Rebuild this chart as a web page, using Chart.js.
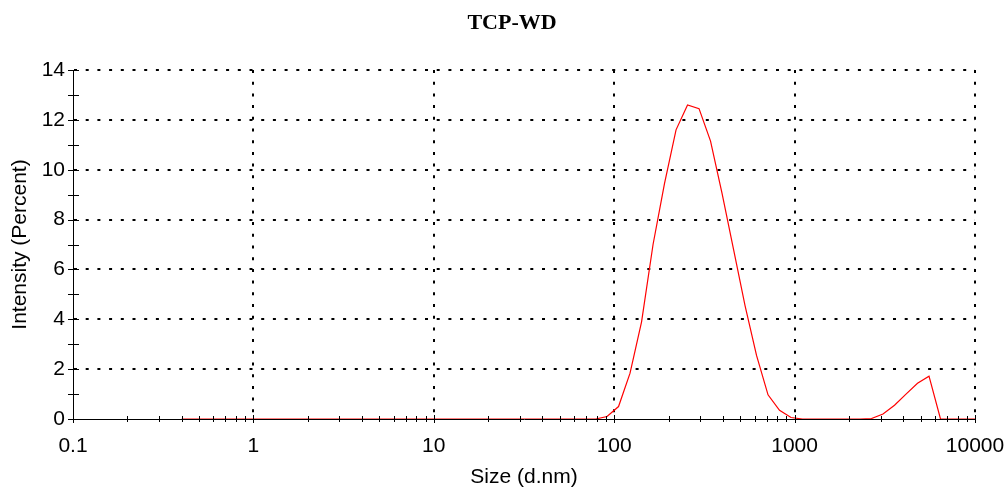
<!DOCTYPE html>
<html lang="en">
<head>
  <meta charset="UTF-8">
  <title>TCP-WD</title>
  <script src="https://cdn.jsdelivr.net/npm/chart.js"></script>
  <style>
    body { margin: 0; background: #fff; font-family: Arial, sans-serif; }
    canvas { display: block; }
  </style>
</head>
<body>
  <canvas id="sizeChart" width="1008" height="490"></canvas>
  <script>
    const chartTitle = 'TCP-WD';
    const xTitle = 'Size (d.nm)';
    const yTitle = 'Intensity (Percent)';

    // size bins (d.nm)
    const sizes = [
      0.4, 0.4632, 0.5365, 0.6213, 0.7195, 0.8332, 0.9649, 1.117, 1.294, 1.499,
      1.736, 2.01, 2.328, 2.696, 3.122, 3.615, 4.187, 4.849, 5.615, 6.503,
      7.531, 8.721, 10.1, 11.7, 13.54, 15.69, 18.17, 21.04, 24.36, 28.21,
      32.67, 37.84, 43.82, 50.75, 58.77, 68.06, 78.82, 91.28, 105.7, 122.4,
      141.8, 164.2, 190.1, 220.2, 255.0, 295.3, 342.0, 396.1, 458.7, 531.2,
      615.1, 712.4, 825.0, 955.4, 1106, 1281, 1484, 1718, 1990, 2305,
      2669, 3091, 3580, 4145, 4801, 5560, 6439, 7456, 8635, 10000
    ];
    // intensity (%)
    const intensity = [
      0, 0, 0, 0, 0, 0, 0, 0, 0, 0,
      0, 0, 0, 0, 0, 0, 0, 0, 0, 0,
      0, 0, 0, 0, 0, 0, 0, 0, 0, 0,
      0, 0, 0, 0, 0, 0, 0, 0.1, 0.5, 1.84,
      3.9, 7.0, 9.45, 11.6, 12.6, 12.45, 11.15, 9.05, 6.8, 4.55,
      2.55, 0.97, 0.35, 0.06, 0, 0, 0, 0, 0, 0,
      0.02, 0.2, 0.55, 1.0, 1.43, 1.72, 0, 0, 0, 0
    ];

    const xMajor = [0.1, 1, 10, 100, 1000, 10000];
    const xTickLabels = ['0.1', '1', '10', '100', '1000', '10000'];
    const yMajor = [0, 2, 4, 6, 8, 10, 12, 14];
    const yMinor = [1, 3, 5, 7, 9, 11, 13];

    const points = sizes.map((s, i) => ({ x: s, y: intensity[i] }));

    // log minor ticks 2..9 in each decade
    const xAllTicks = [];
    xMajor.forEach((m, i) => {
      xAllTicks.push(m);
      if (i < xMajor.length - 1) {
        for (let k = 2; k <= 9; k++) xAllTicks.push(m * k);
      }
    });

    const isMajorX = v => xMajor.some(m => Math.abs(v - m) < m * 1e-6);

    const tickMarks = {
      id: 'tickMarks',
      afterDraw(chart) {
        const ctx = chart.ctx;
        const xs = chart.scales.x, ys = chart.scales.y;
        const bottom = chart.chartArea.bottom, left = chart.chartArea.left;
        ctx.save();
        ctx.strokeStyle = '#000';
        ctx.lineWidth = 1;
        ctx.beginPath();
        xAllTicks.forEach(v => {
          const px = Math.round(xs.getPixelForValue(v)) + 0.5;
          const h = isMajorX(v) ? 4 : 3;
          ctx.moveTo(px, bottom - h);
          ctx.lineTo(px, bottom + h);
        });
        yMajor.concat(yMinor).forEach(v => {
          const py = Math.round(ys.getPixelForValue(v)) + 0.5;
          ctx.moveTo(left - 5, py);
          ctx.lineTo(left + 6, py);
        });
        ctx.stroke();
        ctx.restore();
      }
    };

    const ctx = document.getElementById('sizeChart').getContext('2d');
    new Chart(ctx, {
      type: 'line',
      data: {
        datasets: [{
          data: points,
          borderColor: '#ff0000',
          borderWidth: 1.2,
          pointRadius: 0,
          fill: false,
          tension: 0
        }]
      },
      options: {
        responsive: false,
        animation: false,
        layout: { padding: { left: 16, right: 0, top: 0, bottom: 0 } },
        plugins: {
          legend: { display: false },
          tooltip: { enabled: false },
          title: {
            display: true,
            text: chartTitle,
            color: '#000',
            font: { family: 'Liberation Serif', size: 22, weight: 'bold' },
            lineHeight: 1.2,
            padding: { top: 10, bottom: 33.6 }
          }
        },
        scales: {
          x: {
            type: 'logarithmic',
            min: 0.1,
            max: 10000,
            afterBuildTicks: scale => {
              scale.ticks = xAllTicks.map(v => ({ value: v, major: isMajorX(v) }));
            },
            afterFit: scale => {
              scale.height = 71;
              scale.paddingRight = 33;
            },
            ticks: {
              autoSkip: false,
              maxRotation: 0,
              padding: 15,
              color: '#000',
              font: { family: 'Arial', size: 21 },
              callback: value => {
                const i = xMajor.findIndex(m => Math.abs(value - m) < m * 1e-6);
                return i >= 0 ? xTickLabels[i] : '';
              }
            },
            grid: {
              drawTicks: false,
              lineWidth: 2,
              color: c => (c.tick && isMajorX(c.tick.value) && c.tick.value !== 0.1) ? '#000' : 'rgba(0,0,0,0)'
            },
            border: { display: true, color: '#000', width: 1, dash: [3, 8.7] },
            title: {
              display: true,
              text: xTitle,
              color: '#000',
              font: { family: 'Arial', size: 21 },
              padding: { top: 0, bottom: 0 }
            }
          },
          y: {
            min: 0,
            max: 14,
            afterBuildTicks: scale => {
              scale.ticks = yMajor.map(v => ({ value: v }));
            },
            afterFit: scale => { scale.width = 57; },
            ticks: {
              padding: 8,
              color: '#000',
              font: { family: 'Arial', size: 21 }
            },
            grid: {
              drawTicks: false,
              lineWidth: 2,
              color: c => (c.tick && c.tick.value !== 0) ? '#000' : 'rgba(0,0,0,0)'
            },
            border: { display: true, color: '#000', width: 1, dash: [3, 8.7] },
            title: {
              display: true,
              text: yTitle,
              color: '#000',
              font: { family: 'Arial', size: 21 },
              padding: { top: -8.6, bottom: 0 }
            }
          }
        }
      },
      plugins: [tickMarks]
    });
  </script>
</body>
</html>
